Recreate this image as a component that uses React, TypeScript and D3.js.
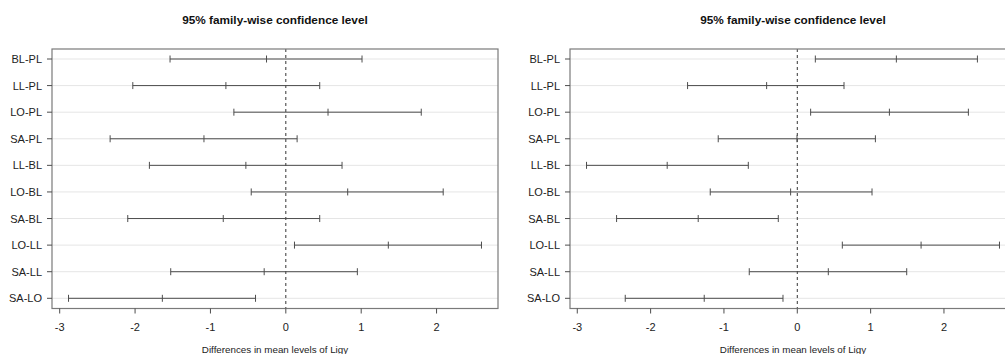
import * as d3 from 'd3'

const comparisons = ['BL-PL', 'LL-PL', 'LO-PL', 'SA-PL', 'LL-BL', 'LO-BL', 'SA-BL', 'LO-LL', 'SA-LL', 'SA-LO']

// left panel: lower, estimate, upper
const leftLwr = [-1.536, -2.03, -0.689, -2.331, -1.81, -0.459, -2.097, 0.115, -1.527, -2.883]
const leftDiff = [-0.256, -0.795, 0.56, -1.086, -0.53, 0.821, -0.83, 1.36, -0.287, -1.638]
const leftUpr = [1.011, 0.45, 1.797, 0.15, 0.746, 2.088, 0.45, 2.596, 0.949, -0.402]

// right panel
const rightLwr = [0.246, -1.496, 0.182, -1.078, -2.874, -1.187, -2.464, 0.614, -0.655, -2.346]
const rightDiff = [1.351, -0.418, 1.256, -0.004, -1.774, -0.091, -1.351, 1.688, 0.423, -1.269]
const rightUpr = [2.456, 0.637, 2.333, 1.065, -0.668, 1.019, -0.259, 2.757, 1.492, -0.195]

const xTicks = [-3, -2, -1, 0, 1, 2]

const TITLE = '95% family-wise confidence level'
const XLABEL = 'Differences in mean levels of Ligy'

const FONT = 'Liberation Sans, Arial, sans-serif'

interface PanelProps {
  left: number
  lwr: number[]
  diff: number[]
  upr: number[]
}

function Panel({ left, lwr, diff, upr }: PanelProps) {
  const top = 49
  const bottom = 308.5
  const width = 446
  const right = left + width

  // R style: data range extended by 4% each side
  const lo = d3.min(lwr) as number
  const hi = d3.max(upr) as number
  const pad = (hi - lo) * 0.04
  const x = d3.scaleLinear().domain([lo - pad, hi + pad]).range([left, right])

  const y = d3.scalePoint<string>()
    .domain(comparisons)
    .range([59, 298.3])

  const ink = '#4d4d4d'

  return (
    <g>
      <text x={(left + right) / 2} y={23.5} textAnchor="middle" fontFamily={FONT}
        fontSize={11.8} fontWeight="bold" fill="#111">{TITLE}</text>

      {/* horizontal grid lines */}
      {comparisons.map(c => (
        <line key={`g-${c}`} x1={left} x2={right} y1={y(c)} y2={y(c)}
          stroke="#e5e5e5" strokeWidth={1} />
      ))}

      {/* zero line */}
      <line x1={x(0)} x2={x(0)} y1={top} y2={bottom} stroke="#333"
        strokeDasharray="3,3" strokeWidth={1} />

      {/* intervals */}
      {comparisons.map((c, i) => {
        const yy = y(c) as number
        return (
          <g key={`ci-${c}`} stroke={ink} strokeWidth={1}>
            <line x1={x(lwr[i])} x2={x(upr[i])} y1={yy} y2={yy} />
            <line x1={x(lwr[i])} x2={x(lwr[i])} y1={yy - 3.5} y2={yy + 3.5} />
            <line x1={x(diff[i])} x2={x(diff[i])} y1={yy - 3.5} y2={yy + 3.5} />
            <line x1={x(upr[i])} x2={x(upr[i])} y1={yy - 3.5} y2={yy + 3.5} />
          </g>
        )
      })}

      {/* box */}
      <rect x={left} y={top} width={width} height={bottom - top} fill="none"
        stroke="#7a7a7a" strokeWidth={1.2} />

      {/* y axis */}
      {comparisons.map(c => (
        <g key={`yl-${c}`}>
          <line x1={left - 5} x2={left} y1={y(c)} y2={y(c)} stroke={ink} />
          <text x={left - 10} y={(y(c) as number) + 4} textAnchor="end"
            fontFamily={FONT} fontSize={11} fill="#222">{c}</text>
        </g>
      ))}

      {/* x axis */}
      {xTicks.map(t => (
        <g key={`xt-${t}`}>
          <line x1={x(t)} x2={x(t)} y1={bottom} y2={bottom + 5} stroke={ink} />
          <text x={x(t)} y={330.5} textAnchor="middle" fontFamily={FONT}
            fontSize={11} fill="#222">{t}</text>
        </g>
      ))}

      <text x={(left + right) / 2} y={352.5} textAnchor="middle" fontFamily={FONT}
        fontSize={9.8} fill="#222">{XLABEL}</text>
    </g>
  )
}

export default function App() {
  return (
    <svg width={1005} height={354}
      style={{ position: 'absolute', left: 0, top: 0, background: '#fff' }}>
      <Panel left={52} lwr={leftLwr} diff={leftDiff} upr={leftUpr} />
      <Panel left={570} lwr={rightLwr} diff={rightDiff} upr={rightUpr} />
    </svg>
  )
}
